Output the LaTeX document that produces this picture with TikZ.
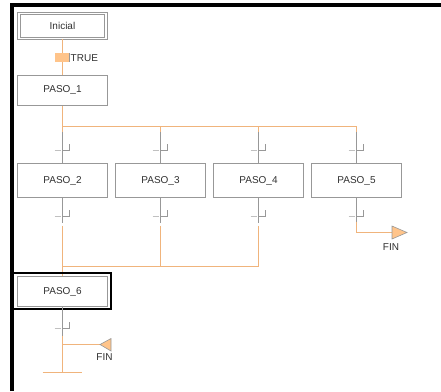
\documentclass[tikz,border=0pt]{standalone}
\usepackage{fontspec}
\setmainfont{Liberation Sans}
\definecolor{naranja}{HTML}{F0B47C}
\definecolor{relleno}{HTML}{FFC48A}
\definecolor{gris}{HTML}{989898}
\definecolor{grisclaro}{HTML}{C0C0C0}
\definecolor{texto}{HTML}{303030}
\tikzstyle{etapa}=[draw=gris, line width=1pt, minimum width=90pt, minimum height=34pt, inner sep=0pt, text=texto, font=\fontsize{10}{12}\selectfont]
\tikzstyle{etapaini}=[etapa, minimum width=87pt, minimum height=25pt, double=white, double distance=1.6pt, line width=0.8pt]
\tikzstyle{etiqueta}=[inner sep=0pt, text=texto, font=\fontsize{10}{12}\selectfont]
\tikzstyle{marco}=[draw=black, line width=2pt]
\tikzstyle{enlace}=[draw=naranja, line width=1pt]
\tikzstyle{vinculo}=[draw=gris, line width=1pt]
\tikzstyle{punta}=[fill=relleno, draw=gris, line width=0.6pt]

\begin{document}
\begin{tikzpicture}[x=1pt, y=-1pt]
            \useasboundingbox (0,0) rectangle (441,391);
            \draw[line width=4pt] (12,391) -- (12,4.5) -- (441,4.5);
            \node[etapaini] (ini) at (62.5,26) {Inicial};
            \node[etapa, minimum height=30pt] (p1) at (62.5,90.5) {PASO\_1};
            \node[etapa] (p2) at (62.5,180.5) {PASO\_2};
            \node[etapa] (p3) at (160.5,180.5) {PASO\_3};
            \node[etapa] (p4) at (258.5,180.5) {PASO\_4};
            \node[etapa] (p5) at (356.5,180.5) {PASO\_5};
            \node[etapa, minimum height=30pt] (p6) at (62.5,291.5) {PASO\_6};
            \coordinate (b2) at (62.5,126.5);
            \coordinate (b3) at (160.5,126.5);
            \coordinate (b4) at (258.5,126.5);
            \coordinate (b5) at (356.5,126.5);
            \coordinate (ta2) at (62.5,150.5);
            \coordinate (ta3) at (160.5,150.5);
            \coordinate (ta4) at (258.5,150.5);
            \coordinate (ta5) at (356.5,150.5);
            \coordinate (tb2) at (62.5,216.5);
            \coordinate (tb3) at (160.5,216.5);
            \coordinate (tb4) at (258.5,216.5);
            \coordinate (tb5) at (356.5,216.5);
            \coordinate (c2) at (62.5,266.5);
            \coordinate (c3) at (160.5,266.5);
            \coordinate (c4) at (258.5,266.5);
            \coordinate (t7) at (62.5,328.5);
            \coordinate (s6) at (62.5,344.5);
            \coordinate (e6) at (62.5,372.5);
            \coordinate (f5) at (392,232.5);
            \coordinate (f6) at (100,344.5);
            \draw[enlace] (ini) -- (p1);
            \node[fill=relleno, minimum width=14pt, minimum height=9pt, inner sep=0pt] (t1) at (62,57.5) {};
            \draw[vinculo] (t1.north east) -- (t1.south east);
            \node[etiqueta, anchor=west] (ltrue) at (70.5,58) {TRUE};
            \draw[enlace] (p1) -- ([yshift=-5pt]b2);
            \draw[enlace] (b2) -- (b5);
            \foreach \i in {2,3,4,5} {
              \draw[vinculo] ([yshift=-5pt]b\i) -- (p\i);
              \draw[enlace] (b\i) -- ([yshift=-5pt]b\i);
              \draw[vinculo] (p\i) -- ([yshift=-6pt]tb\i);
            }
            \foreach \i in {2,3,4} {
              \draw[enlace] ([yshift=-9pt]tb\i) -- (c\i);
            }
            \draw[enlace] (c2) -- (c4);
            \draw[enlace] (c2) -- (p6);
            \draw[marco] ([xshift=-4pt,yshift=3pt]p6.north west) rectangle ([xshift=3pt,yshift=-2pt]p6.south east);
            \draw[vinculo] (p6) -- ([yshift=-7pt]t7);
            \draw[enlace] ([yshift=-7pt]t7) -- (e6);
            \draw[enlace] ([xshift=-20pt]e6) -- ([xshift=19pt]e6);
            \draw[enlace] (s6) -- (f6);
            \draw[punta] (f6) -- ++(11,-6) -- ++(0,12.5) -- cycle;
            \node[etiqueta] (fin6) at (104.5,357) {FIN};
            \draw[enlace] ([yshift=-5pt]tb5) |- (f5);
            \draw[punta] (f5) -- ++(0,-6.5) -- ++(15,6.5) -- ++(-15,6.5) -- cycle;
            \node[etiqueta] (fin5) at (391,247) {FIN};
            \foreach \t in {ta2,ta3,ta4,ta5,tb2,tb3,tb4,tb5,t7} {
              \draw[draw=grisclaro, line width=1pt] ([xshift=-8pt]\t) -- ++(6,0);
              \draw[vinculo] (\t) -- ++(7,0) -- ++(0,-7);
            }
	    \end{tikzpicture}
\end{document}
